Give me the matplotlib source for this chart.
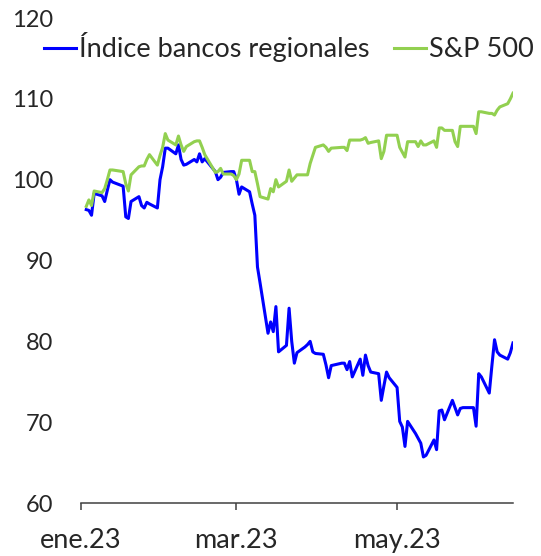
import matplotlib.pyplot as plt
import pandas as pd

plt.rcParams["font.family"] = ["Lato", "DejaVu Sans"]

# Índice bancos regionales (base 100)
bank_dates = [
    "2023-01-03", "2023-01-04", "2023-01-05", "2023-01-06", "2023-01-09", "2023-01-10",
    "2023-01-11", "2023-01-12", "2023-01-13", "2023-01-17", "2023-01-18", "2023-01-19",
    "2023-01-20", "2023-01-23", "2023-01-24", "2023-01-25", "2023-01-26", "2023-01-27",
    "2023-01-30", "2023-01-31", "2023-02-01", "2023-02-02", "2023-02-03", "2023-02-06",
    "2023-02-07", "2023-02-08", "2023-02-09", "2023-02-10", "2023-02-13", "2023-02-14",
    "2023-02-15", "2023-02-16", "2023-02-17", "2023-02-21", "2023-02-22", "2023-02-23",
    "2023-02-24", "2023-02-27", "2023-02-28", "2023-03-01", "2023-03-02", "2023-03-03",
    "2023-03-06", "2023-03-07", "2023-03-08", "2023-03-09", "2023-03-10", "2023-03-13",
    "2023-03-14", "2023-03-15", "2023-03-16", "2023-03-17", "2023-03-20", "2023-03-21",
    "2023-03-22", "2023-03-23", "2023-03-24", "2023-03-27", "2023-03-28", "2023-03-29",
    "2023-03-30", "2023-03-31", "2023-04-03", "2023-04-04", "2023-04-05", "2023-04-06",
    "2023-04-10", "2023-04-11", "2023-04-12", "2023-04-13", "2023-04-14", "2023-04-17",
    "2023-04-18", "2023-04-19", "2023-04-20", "2023-04-21", "2023-04-24", "2023-04-25",
    "2023-04-26", "2023-04-27", "2023-04-28", "2023-05-01", "2023-05-02", "2023-05-03",
    "2023-05-04", "2023-05-05", "2023-05-08", "2023-05-09", "2023-05-10", "2023-05-11",
    "2023-05-12", "2023-05-15", "2023-05-16", "2023-05-17", "2023-05-18", "2023-05-19",
    "2023-05-22", "2023-05-23", "2023-05-24", "2023-05-25", "2023-05-26", "2023-05-30",
    "2023-05-31", "2023-06-01", "2023-06-02", "2023-06-05", "2023-06-06", "2023-06-07",
    "2023-06-08", "2023-06-09", "2023-06-12", "2023-06-13", "2023-06-14",
]
bank_values = [
    96.3, 96.2, 95.6, 98.3, 98.0, 97.3,
    98.7, 100.0, 99.7, 99.2, 95.4, 95.2,
    97.3, 97.9, 96.8, 96.5, 97.2, 97.0,
    96.5, 100.0, 101.6, 103.9, 103.9, 103.2,
    104.3, 102.5, 101.8, 101.9, 102.5, 102.2,
    103.2, 102.2, 102.6, 101.0, 100.0, 100.3,
    100.9, 101.0, 101.0, 100.0, 98.2, 99.1,
    98.5, 97.0, 95.6, 89.2, 87.2, 81.0,
    82.4, 81.2, 84.3, 78.7, 79.5, 84.1,
    80.0, 77.3, 78.6, 79.3, 79.6, 80.0,
    78.7, 78.5, 78.4, 77.1, 75.5, 77.0,
    77.3, 77.3, 76.5, 77.5, 75.6, 77.8,
    75.8, 78.3, 77.0, 76.2, 76.0, 72.7,
    74.5, 76.2, 75.5, 74.3, 70.1, 69.4,
    67.0, 70.1, 68.6, 68.0, 67.4, 65.7,
    65.9, 67.8, 66.6, 71.4, 71.5, 70.3,
    72.7, 71.8, 70.9, 71.7, 71.8, 71.8,
    69.5, 76.0, 75.6, 73.6, 77.0, 80.2,
    78.7, 78.3, 77.8, 78.6, 79.8,
]

# S&P 500 (base 100)
spx_dates = bank_dates
spx_values = [
    96.7, 97.5, 96.8, 98.6, 98.4, 98.9,
    100.0, 101.2, 101.2, 101.0, 99.5, 98.6,
    100.6, 101.6, 101.7, 101.7, 102.5, 103.1,
    101.8, 103.0, 104.0, 105.7, 104.9, 104.3,
    105.4, 104.3, 103.5, 104.1, 104.7, 104.8,
    104.8, 104.0, 103.1, 100.9, 101.0, 101.4,
    100.7, 100.7, 100.5, 100.0, 100.7, 102.4,
    102.4, 101.0, 101.0, 99.5, 97.9, 97.6,
    98.9, 98.5, 100.0, 99.1, 99.8, 101.2,
    99.8, 100.2, 100.6, 100.6, 100.6, 102.0,
    103.0, 104.0, 104.3, 104.0, 103.5, 103.9,
    104.0, 104.0, 103.6, 104.9, 104.9, 104.9,
    105.0, 105.2, 104.5, 104.6, 104.8, 102.6,
    103.5, 105.5, 105.5, 105.5, 104.0, 103.4,
    102.8, 104.7, 104.7, 104.1, 104.8, 104.3,
    104.3, 104.8, 104.0, 106.4, 106.4, 106.1,
    106.1, 104.7, 104.1, 106.6, 106.6, 106.6,
    105.7, 108.4, 108.4, 108.2, 108.2, 108.0,
    108.6, 109.0, 109.4, 110.0, 110.7,
]

tick_dates = ["2023-01-01", "2023-03-01", "2023-05-01"]
tick_labels = ["ene.23", "mar.23", "may.23"]

bank_x = pd.to_datetime(bank_dates)
spx_x = pd.to_datetime(spx_dates)

fig = plt.figure(figsize=(5.41, 5.56), dpi=100)
ax = fig.add_axes([0.1497, 0.0953, 0.7985, 0.8723])

ax.plot(bank_x, bank_values, color="#0000FF", lw=2.2, label="Índice bancos regionales")
ax.plot(spx_x, spx_values, color="#92D050", lw=2.2, label="S&P 500")

ax.set_xlim(pd.Timestamp("2023-01-01"), pd.Timestamp("2023-06-14"))
ax.set_ylim(60, 120)
ax.set_yticks(range(60, 121, 10))
ax.set_xticks(pd.to_datetime(tick_dates))
ax.set_xticklabels(tick_labels)

for s in ["top", "right", "left"]:
    ax.spines[s].set_visible(False)
ax.spines["bottom"].set_color("#404040")
ax.spines["bottom"].set_linewidth(1.1)

ax.tick_params(axis="y", length=0, pad=20, labelsize=17, labelcolor="#262626")
ax.tick_params(axis="x", length=5, width=1.1, color="#404040", pad=13,
               labelsize=19.5, labelcolor="#262626")

fig.legend(loc="center", bbox_to_anchor=(0.534, 0.9155), ncol=2, frameon=False,
           fontsize=19.5, handlelength=1.2, handletextpad=0.1, columnspacing=0.9,
           labelcolor="#262626")

fig.savefig("out.png", dpi=100)
